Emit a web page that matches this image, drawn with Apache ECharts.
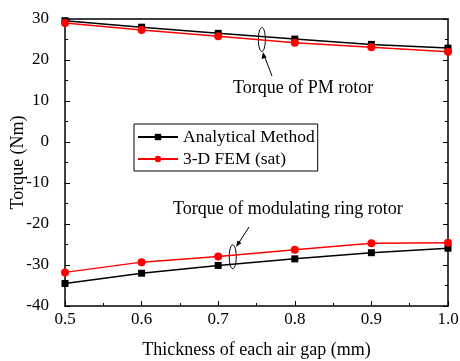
<!DOCTYPE html>
<html>
<head>
<meta charset="utf-8">
<script src="https://cdn.jsdelivr.net/npm/echarts@6/dist/echarts.min.js"></script>
<style>
  html, body { margin: 0; padding: 0; background: #fff; }
  #chart { width: 460px; height: 361px; }
</style>
</head>
<body>
<div id="chart"></div>
<script>
var gaps = [0.5, 0.6, 0.7, 0.8, 0.9, 1.0];
var pmAnalytical = [29.6, 28.0, 26.5, 25.1, 23.8, 22.9];
var pmFem = [29.0, 27.3, 25.8, 24.2, 23.1, 22.0];
var ringAnalytical = [-34.5, -32.0, -30.1, -28.5, -27.0, -25.9];
var ringFem = [-31.8, -29.3, -27.9, -26.3, -24.7, -24.6];

function pairs(ys) {
  return gaps.map(function (x, i) { return [x, ys[i]]; });
}

var FONT = 'Liberation Serif';
var dom = document.getElementById('chart');
var chart = echarts.init(dom);

function lineSeries(name, ys, color, symbol, size) {
  return {
    name: name,
    type: 'line',
    data: pairs(ys),
    symbol: symbol,
    symbolSize: size,
    showSymbol: true,
    lineStyle: { color: color, width: 1.5 },
    itemStyle: { color: color },
    animation: false
  };
}

var option = {
  backgroundColor: '#fff',
  textStyle: { fontFamily: FONT },
  grid: { left: 65, right: 12, top: 19, bottom: 55, containLabel: false, outerBoundsMode: 'none' },
  legend: {
    orient: 'vertical',
    left: 134,
    top: 124,
    data: ['Analytical Method', '3-D FEM (sat)'],
    itemWidth: 40,
    itemHeight: 8,
    itemGap: 4,
    padding: [4, 3, 3, 3],
    borderColor: '#000',
    borderWidth: 1,
    borderRadius: 0,
    textStyle: { fontFamily: FONT, fontSize: 17.5, color: '#000' }
  },
  xAxis: [{
    type: 'value',
    min: 0.5,
    max: 1.0,
    interval: 0.1,
    name: 'Thickness of each air gap (mm)',
    nameLocation: 'middle',
    nameGap: 35,
    nameTextStyle: { fontFamily: FONT, fontSize: 18, color: '#000' },
    axisLine: { show: true, onZero: false, lineStyle: { color: '#000', width: 1.5 } },
    axisTick: { show: true, inside: true, length: 5, lineStyle: { color: '#000' } },
    minorTick: { show: true, splitNumber: 2, length: 3, lineStyle: { color: '#000' } },
    axisLabel: {
      fontFamily: FONT, fontSize: 17, color: '#000', margin: 5,
      formatter: function (v) { return v.toFixed(1); }
    },
    splitLine: { show: false }
  }, {
    type: 'value',
    position: 'top',
    min: 0.5,
    max: 1.0,
    interval: 0.1,
    axisLine: { show: true, onZero: false, lineStyle: { color: '#000', width: 1.5 } },
    axisTick: { show: false },
    axisLabel: { show: false },
    splitLine: { show: false }
  }],
  yAxis: [{
    type: 'value',
    min: -40,
    max: 30,
    interval: 10,
    name: 'Torque (Nm)',
    nameLocation: 'middle',
    nameGap: 38,
    nameMoveOverlap: false,
    nameTextStyle: { fontFamily: FONT, fontSize: 18, color: '#000' },
    axisLine: { show: true, onZero: false, lineStyle: { color: '#000', width: 1.5 } },
    axisTick: { show: true, inside: true, length: 5, lineStyle: { color: '#000' } },
    minorTick: { show: true, splitNumber: 2, length: 3, lineStyle: { color: '#000' } },
    axisLabel: { fontFamily: FONT, fontSize: 17, color: '#000', margin: 16 },
    splitLine: { show: false }
  }, {
    type: 'value',
    position: 'right',
    min: -40,
    max: 30,
    interval: 10,
    axisLine: { show: true, onZero: false, lineStyle: { color: '#000', width: 1.5 } },
    axisTick: { show: true, inside: true, length: 5, lineStyle: { color: '#000' } },
    minorTick: { show: true, splitNumber: 2, length: 3, lineStyle: { color: '#000' } },
    axisLabel: { show: false },
    splitLine: { show: false }
  }],
  series: [
    lineSeries('Analytical Method', pmAnalytical, '#000', 'rect', 7),
    lineSeries('3-D FEM (sat)', pmFem, '#ff0000', 'circle', 8),
    lineSeries('Analytical Method', ringAnalytical, '#000', 'rect', 7),
    lineSeries('3-D FEM (sat)', ringFem, '#ff0000', 'circle', 8)
  ],
  animation: false
};

chart.setOption(option);

// annotations: ellipses round each pair of curves, arrows and labels
function px(x, y) { return chart.convertToPixel({ xAxisIndex: 0, yAxisIndex: 0 }, [x, y]); }
var pmC = px(0.757, 25.0);
var ringC = px(0.719, -28.0);
var annotations = [
  { type: 'ellipse', shape: { cx: pmC[0], cy: pmC[1], rx: 3.5, ry: 12 }, style: { fill: null, stroke: '#000', lineWidth: 1 } },
  { type: 'ellipse', shape: { cx: ringC[0], cy: ringC[1], rx: 3.5, ry: 12 }, style: { fill: null, stroke: '#000', lineWidth: 1 } },
  { type: 'line', shape: { x1: 272, y1: 76, x2: 264, y2: 55 }, style: { stroke: '#000', lineWidth: 1 } },
  { type: 'polygon', shape: { points: [[263, 52], [261.5, 59], [266.5, 57.5]] }, style: { fill: '#000' } },
  { type: 'line', shape: { x1: 249, y1: 227, x2: 238, y2: 244 }, style: { stroke: '#000', lineWidth: 1 } },
  { type: 'polygon', shape: { points: [[236, 247], [237.5, 240.5], [241.5, 243]] }, style: { fill: '#000' } },
  { type: 'text', left: 233, top: 79, style: { text: 'Torque of PM rotor', font: '18px "Liberation Serif"', fill: '#000' } },
  { type: 'text', left: 173, top: 200, style: { text: 'Torque of modulating ring rotor', font: '18px "Liberation Serif"', fill: '#000' } }
];
chart.setOption({ graphic: annotations });
</script>
</body>
</html>
